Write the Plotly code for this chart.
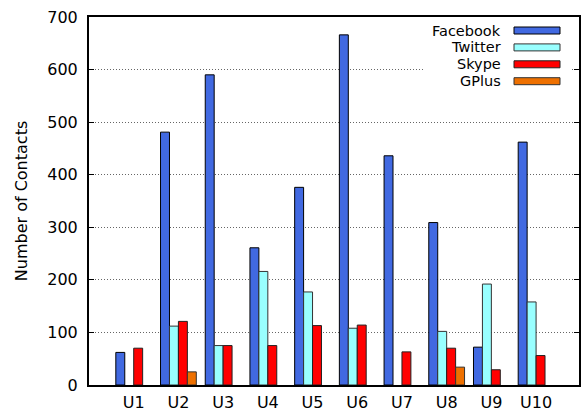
import plotly.graph_objects as go

users = ["U1", "U2", "U3", "U4", "U5", "U6", "U7", "U8", "U9", "U10"]
facebook = [62, 481, 590, 261, 376, 666, 436, 309, 72, 462]
twitter = [None, 112, 75, 216, 177, 108, None, 102, 192, 158]
skype = [70, 121, 75, 75, 113, 114, 63, 70, 29, 56]
gplus = [None, 25, None, None, None, None, None, 34, None, None]

series_names = ["Facebook", "Twitter", "Skype", "GPlus"]
series_colors = ["#4169E1", "#99FFFF", "#FF0000", "#EE7000"]
series_lines = ["#000000", "#333333", "#222222", "#333333"]
y_ticks = [0, 100, 200, 300, 400, 500, 600, 700]

FONT = "DejaVu Sans"
W, H = 583, 412
ML, MR, MT, MB = 89, 4, 17, 27
PW, PH = W - ML - MR, H - MT - MB


def px_x(px):
    return (px - ML) / PW


def px_y(py):
    return (H - MB - py) / PH


fig = go.Figure()
for name, vals, col, lc in zip(series_names, [facebook, twitter, skype, gplus],
                               series_colors, series_lines):
    fig.add_trace(go.Bar(
        x=users, y=vals, name=name,
        marker=dict(color=col, line=dict(color=lc, width=1)),
        showlegend=False,
    ))

fig.update_layout(
    width=W, height=H,
    margin=dict(l=ML, r=MR, t=MT, b=MB, pad=0, autoexpand=False),
    paper_bgcolor="white", plot_bgcolor="white",
    barmode="group", bargap=0.2, bargroupgap=0,
    font=dict(family=FONT, size=16, color="black"),
)

fig.update_xaxes(
    type="category", range=[-1, 9.96], automargin=False,
    showline=True, linecolor="black", linewidth=2, mirror=True,
    ticks="", showgrid=False, zeroline=False,
    tickfont=dict(family=FONT, size=16, color="black"),
    ticklabelstandoff=2,
)
fig.update_yaxes(
    range=[0, 700], tickvals=y_ticks, automargin=False,
    showline=True, linecolor="black", linewidth=2, mirror="ticks",
    ticks="inside", ticklen=5, tickwidth=1, tickcolor="black",
    showgrid=True, gridcolor="#666666", gridwidth=1, griddash="1px,2px",
    zeroline=False,
    tickfont=dict(family=FONT, size=16, color="black"),
    ticklabelstandoff=6,
    title=dict(text="Number of Contacts", font=dict(family=FONT, size=16, color="black"),
               standoff=16),
)

# key box (gnuplot-style: label on the left, sample on the right)
shapes = [dict(type="rect", xref="paper", yref="paper",
               x0=px_x(423), x1=px_x(572), y0=px_y(91), y1=px_y(19),
               fillcolor="white", line=dict(width=0), layer="above")]
annotations = []
for i, (name, col, lc) in enumerate(zip(series_names, series_colors, series_lines)):
    cy = 30.5 + 16.9 * i
    shapes.append(dict(type="rect", xref="paper", yref="paper",
                       x0=px_x(514), x1=px_x(560), y0=px_y(cy + 3.5), y1=px_y(cy - 3.5),
                       fillcolor=col, line=dict(color=lc, width=1), layer="above"))
    annotations.append(dict(xref="paper", yref="paper", x=px_x(503), y=px_y(cy),
                            text=name, showarrow=False, xanchor="right", yanchor="middle",
                            font=dict(family=FONT, size=14.5, color="black")))

fig.update_layout(shapes=shapes, annotations=annotations)

fig.write_html("out.html")
